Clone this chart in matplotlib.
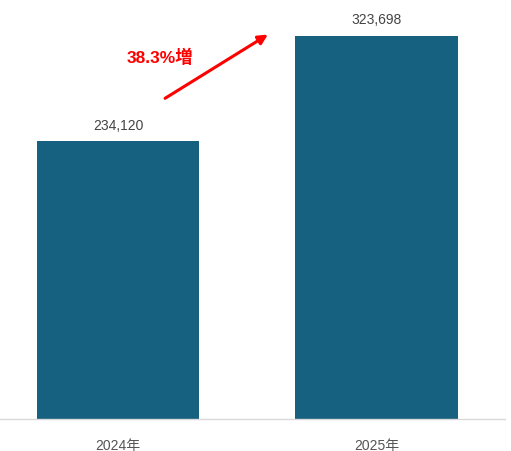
import matplotlib
matplotlib.use("Agg")
import matplotlib.pyplot as plt

plt.rcParams['font.family'] = ['Liberation Sans', 'Noto Sans CJK JP', 'DejaVu Sans']

years = ['2024年', '2025年']
values = [234120, 323698]
growth_label = '38.3%増'

bar_color = '#166080'

fig = plt.figure(figsize=(5.11, 4.52), dpi=100)
ax = fig.add_axes([0, 32.5 / 452, 505 / 511, 419 / 452])

x = list(range(len(years)))
bars = ax.bar(x, values, width=0.627, color=bar_color)

for xi, v in zip(x, values):
    ax.annotate(f'{v:,}', (xi, v), xytext=(0, 7), textcoords='offset points',
                ha='center', va='bottom', fontsize=10, color='#444444')

ax.set_xlim(-0.4565, 1.497)
ax.set_ylim(0, values[1] * 419 / 383)
ax.set_xticks(x)
ax.set_xticklabels(years, fontsize=10, color='#555555')
ax.tick_params(axis='x', length=0, pad=14)
ax.set_yticks([])
for s in ['top', 'right', 'left']:
    ax.spines[s].set_visible(False)
ax.spines['bottom'].set_color('#d9d9d9')
ax.spines['bottom'].set_linewidth(1)

# growth arrow
ax.annotate('', xy=(0.58, 324500), xytext=(0.182, 270600),
            arrowprops=dict(arrowstyle='-|>', color='red', lw=2.2,
                            mutation_scale=14, shrinkA=0, shrinkB=0))
ax.text(0.162, 306000, growth_label, ha='center', va='center',
        fontsize=12.5, fontweight='bold', color='red')

fig.savefig('out.png', dpi=100)
